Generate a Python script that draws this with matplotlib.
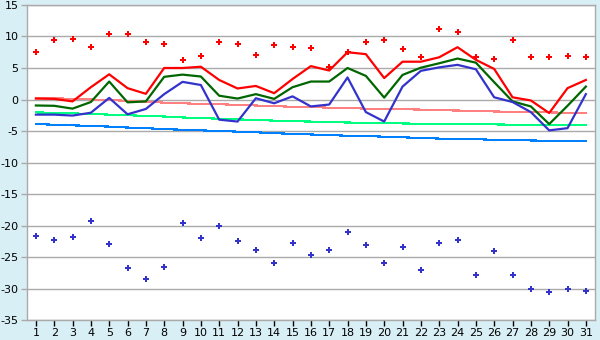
import numpy as np
import matplotlib
matplotlib.use("Agg")
import matplotlib.pyplot as plt

plt.rcParams["axes.unicode_minus"] = False

days = list(range(1, 32))

# daily series
t_max = [0.15, 0.1, -0.3, 1.95, 4.0, 1.8, 0.9, 5.0, 5.0, 5.2, 3.1, 1.75, 2.15, 1.0, 3.25,
         5.3, 4.6, 7.5, 7.2, 3.4, 6.0, 6.0, 6.7, 8.3, 6.3, 4.85, 0.35, -0.15, -2.15, 1.8, 3.1]
t_mean = [-0.95, -1.0, -1.45, -0.4, 2.85, -0.45, -0.3, 3.6, 3.95, 3.65, 0.6, 0.15, 0.85, 0.1, 1.95,
          2.85, 2.85, 5.0, 3.75, 0.3, 3.9, 5.05, 5.75, 6.5, 5.85, 2.75, -0.3, -1.1, -3.9, -1.0, 2.05]
t_min = [-2.4, -2.4, -2.55, -2.1, 0.25, -2.35, -1.5, 0.85, 2.8, 2.3, -3.2, -3.5, 0.2, -0.6, 0.5,
         -1.1, -0.8, 3.5, -2.0, -3.5, 2.05, 4.55, 5.1, 5.5, 4.8, 0.35, -0.4, -2.0, -4.9, -4.55, 0.85]
rec_max = [7.5, 9.4, 9.55, 8.3, 10.35, 10.35, 9.1, 8.75, 6.25, 6.85, 9.1, 8.75, 7.0, 8.6, 8.3,
           8.15, 5.15, 7.5, 9.1, 9.4, 8.0, 6.7, 11.15, 10.65, 6.7, 6.4, 9.4, 6.7, 6.7, 6.85, 6.7]
rec_min = [-21.65, -22.3, -21.8, -19.3, -22.95, -26.75, -28.45, -26.55, -19.6, -21.95, -20.05,
           -22.45, -23.9, -25.95, -22.75, -24.65, -23.9, -21.05, -23.1, -25.95, -23.4, -27.05,
           -22.75, -22.3, -27.85, -24.05, -27.85, -30.05, -30.55, -30.05, -30.35]
norm_max = [0.3, 0.2, 0.1, 0.0, -0.1, -0.2, -0.35, -0.5, -0.6, -0.7, -0.75, -0.85, -0.95, -1.05,
            -1.15, -1.2, -1.3, -1.35, -1.45, -1.5, -1.55, -1.6, -1.7, -1.75, -1.8, -1.9, -1.95,
            -2.0, -2.05, -2.1, -2.15]
norm_mean = [-2.05, -2.1, -2.2, -2.3, -2.4, -2.5, -2.6, -2.7, -2.85, -2.95, -3.05, -3.15, -3.25,
             -3.35, -3.45, -3.5, -3.6, -3.65, -3.7, -3.75, -3.8, -3.85, -3.9, -3.9, -3.95, -3.95,
             -4.0, -4.0, -4.0, -4.05, -4.05]
norm_min = [-3.9, -4.0, -4.1, -4.2, -4.3, -4.45, -4.55, -4.7, -4.8, -4.9, -5.0, -5.1, -5.2, -5.35,
            -5.45, -5.55, -5.65, -5.75, -5.8, -5.9, -6.0, -6.1, -6.2, -6.25, -6.3, -6.4, -6.45,
            -6.5, -6.55, -6.6, -6.65]

fig = plt.figure(figsize=(6, 3.4), dpi=100, facecolor="#d9eff6")
ax = fig.add_axes([0.0445, 0.0588, 0.9472, 0.9265])
ax.set_facecolor("white")

ax.plot(days, norm_max, color="#ff8080", lw=0.8, antialiased=False)
ax.plot(days, norm_mean, color="#00ff80", lw=0.8, antialiased=False)
ax.plot(days, norm_min, color="#0080ff", lw=0.8, antialiased=False)
ax.plot(days, t_max, color="#ff0000", lw=1.6)
ax.plot(days, t_mean, color="#006600", lw=1.6)
ax.plot(days, t_min, color="#3333cc", lw=1.6)
ax.plot(days, rec_max, ls="none", marker="P", ms=4.8, color="#ff0000", mew=0)
ax.plot(days, rec_min, ls="none", marker="P", ms=4.8, color="#3333cc", mew=0)

ax.set_xlim(0.5, 31.5)
ax.set_ylim(-35, 15)
ax.set_xticks(days)
ax.set_yticks(np.arange(-35, 16, 5))
ax.yaxis.grid(True, color="#aaaaaa", lw=1)
ax.set_axisbelow(True)
for s in ax.spines.values():
    s.set_color("#aaaaaa")
    s.set_linewidth(1)
ax.tick_params(colors="#000000", labelsize=8, length=4, width=1, pad=2)
ax.tick_params(axis="y", color="#aaaaaa")

fig.savefig("out.png", dpi=100, facecolor=fig.get_facecolor())
